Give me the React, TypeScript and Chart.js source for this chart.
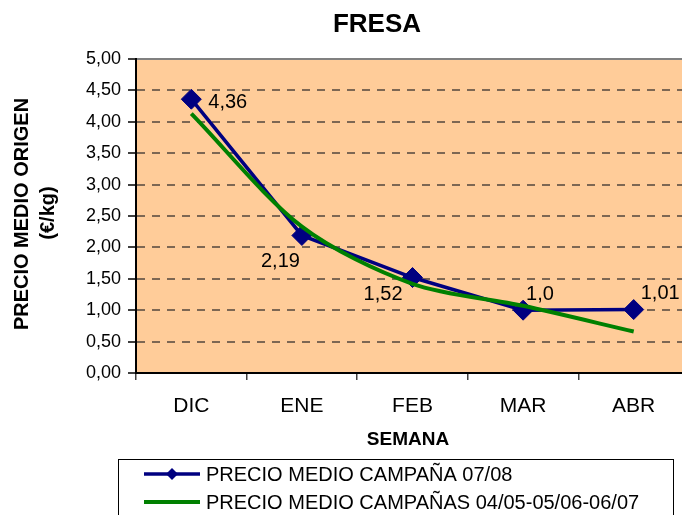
import React, { useEffect, useRef } from "react";
import { Chart, registerables } from "chart.js";

Chart.register(...registerables);

const categories = ["DIC", "ENE", "FEB", "MAR", "ABR"];
const campaign0708 = [4.36, 2.19, 1.52, 1.0, 1.01];
const campaignAvg = [4.13, 2.33, 1.42, 1.07, 0.66];
const pointLabels = ["4,36", "2,19", "1,52", "1,0", "1,01"];
const seriesNames = [
  "PRECIO MEDIO CAMPAÑA 07/08",
  "PRECIO MEDIO CAMPAÑAS 04/05-05/06-06/07",
];
const chartTitle = "FRESA";
const yTitleLines = ["PRECIO MEDIO ORIGEN", "(€/kg)"];
const xTitle = "SEMANA";
const yMin = 0;
const yMax = 5;
const yStep = 0.5;

const FONT = "'Liberation Sans', Arial, sans-serif";
const NARROW = "'Liberation Sans Narrow', 'Liberation Sans', Arial, sans-serif";

const labelPlacement = [
  { dx: 17, dy: 3, align: "left" },
  { dx: -2, dy: 26, align: "right" },
  { dx: -10, dy: 17, align: "right" },
  { dx: 3, dy: -16, align: "left" },
  { dx: 7, dy: -16, align: "left" },
];

const decor = {
  id: "decor",
  beforeDraw(chart: any) {
    const { ctx, chartArea: a } = chart;
    ctx.save();
    ctx.fillStyle = "#ffffff";
    ctx.fillRect(0, 0, chart.width, chart.height);
    ctx.fillStyle = "#FFCC99";
    ctx.fillRect(a.left, a.top, a.right - a.left, a.bottom - a.top);
    ctx.strokeStyle = "#808080";
    ctx.lineWidth = 2;
    ctx.beginPath();
    ctx.moveTo(a.left, a.top);
    ctx.lineTo(a.right, a.top);
    ctx.stroke();
    ctx.restore();
  },
  afterDatasetsDraw(chart: any) {
    const { ctx } = chart;
    const meta = chart.getDatasetMeta(0);
    ctx.save();
    ctx.fillStyle = "#000";
    ctx.font = `20px ${FONT}`;
    ctx.textBaseline = "middle";
    meta.data.forEach((pt: any, i: number) => {
      const p = labelPlacement[i];
      ctx.textAlign = p.align;
      ctx.fillText(pointLabels[i], pt.x + p.dx, pt.y + p.dy);
    });
    ctx.restore();
  },
  afterDraw(chart: any) {
    const { ctx } = chart;
    ctx.save();
    ctx.fillStyle = "#000";
    ctx.textAlign = "center";
    ctx.textBaseline = "middle";
    ctx.font = `bold 26px ${FONT}`;
    ctx.fillText(chartTitle, 377, 25);
    ctx.font = `bold 19px ${FONT}`;
    ctx.fillText(xTitle, 408, 440);
    ctx.save();
    ctx.translate(22, 214);
    ctx.rotate(-Math.PI / 2);
    ctx.font = `bold 20px ${FONT}`;
    ctx.fillText(yTitleLines[0], 0, 0);
    ctx.restore();
    ctx.save();
    ctx.translate(48, 213);
    ctx.rotate(-Math.PI / 2);
    ctx.font = `bold 20px ${FONT}`;
    ctx.fillText(yTitleLines[1], 0, 0);
    ctx.restore();

    // legend
    ctx.strokeStyle = "#000";
    ctx.lineWidth = 1;
    ctx.strokeRect(118.5, 459.5, 555, 80);
    const colors = ["#000080", "#008000"];
    const ys = [474, 502];
    colors.forEach((c, i) => {
      ctx.strokeStyle = c;
      ctx.lineWidth = i === 0 ? 3.5 : 4;
      ctx.beginPath();
      ctx.moveTo(144, ys[i]);
      ctx.lineTo(200, ys[i]);
      ctx.stroke();
      if (i === 0) {
        ctx.fillStyle = c;
        ctx.beginPath();
        ctx.moveTo(172, ys[i] - 6);
        ctx.lineTo(178, ys[i]);
        ctx.lineTo(172, ys[i] + 6);
        ctx.lineTo(166, ys[i]);
        ctx.closePath();
        ctx.fill();
      }
      ctx.fillStyle = "#000";
      ctx.textAlign = "left";
      ctx.font = `20px ${FONT}`;
      ctx.fillText(seriesNames[i], 206, ys[i] + 1);
    });
    ctx.restore();
  },
};

export default function App() {
  const ref = useRef<HTMLCanvasElement>(null);
  useEffect(() => {
    if (!ref.current) return;
    const chart = new Chart(ref.current, {
      type: "line",
      data: {
        labels: categories,
        datasets: [
          {
            label: seriesNames[0],
            data: campaign0708,
            borderColor: "#000080",
            backgroundColor: "#000080",
            borderWidth: 3.5,
            pointStyle: "rectRot",
            pointRadius: 10,
            pointBorderWidth: 1,
            pointBackgroundColor: "#000080",
            pointBorderColor: "#000080",
            tension: 0,
            order: 2,
          },
          {
            label: seriesNames[1],
            data: campaignAvg,
            borderColor: "#008000",
            backgroundColor: "#008000",
            borderWidth: 4,
            pointRadius: 0,
            tension: 0.3,
            order: 1,
          },
        ],
      },
      options: {
        responsive: false,
        animation: false,
        devicePixelRatio: 1,
        layout: { padding: { top: 59, right: 8, left: 0, bottom: 0 } },
        plugins: {
          legend: { display: false },
          title: { display: false },
          tooltip: { enabled: false },
        },
        scales: {
          x: {
            offset: true,
            grid: {
              offset: true,
              drawOnChartArea: false,
              drawTicks: true,
              tickLength: 7,
              tickColor: "#404040",
              lineWidth: 1.5,
            },
            border: { color: "#000", width: 2 },
            ticks: {
              font: { family: NARROW, size: 21 },
              color: "#000",
              padding: 14,
              maxRotation: 0,
              autoSkip: false,
            },
            afterFit(s: any) {
              s.height = 157;
            },
          },
          y: {
            min: yMin,
            max: yMax,
            ticks: {
              stepSize: yStep,
              font: { family: FONT, size: 18 },
              color: "#000",
              padding: 7,
              callback: (v: any) => Number(v).toFixed(2).replace(".", ","),
            },
            grid: {
              color: (c: any) =>
                c.tick && (c.tick.value === yMin || c.tick.value === yMax)
                  ? "rgba(0,0,0,0)"
                  : "#7d6753",
              lineWidth: 2,
              tickColor: "#404040",
              tickLength: 8,
              drawTicks: true,
            },
            border: { color: "#000", width: 2, dash: [8, 7] },
            afterFit(s: any) {
              s.width = 136;
            },
          },
        },
      },
      plugins: [decor],
    });
    return () => chart.destroy();
  }, []);
  return (
    <div
      style={{
        position: "fixed",
        left: 0,
        top: 0,
        width: 682,
        height: 515,
        overflow: "hidden",
        background: "#fff",
      }}
    >
      <canvas ref={ref} width={700} height={530} style={{ width: 700, height: 530, display: "block" }} />
    </div>
  );
}
